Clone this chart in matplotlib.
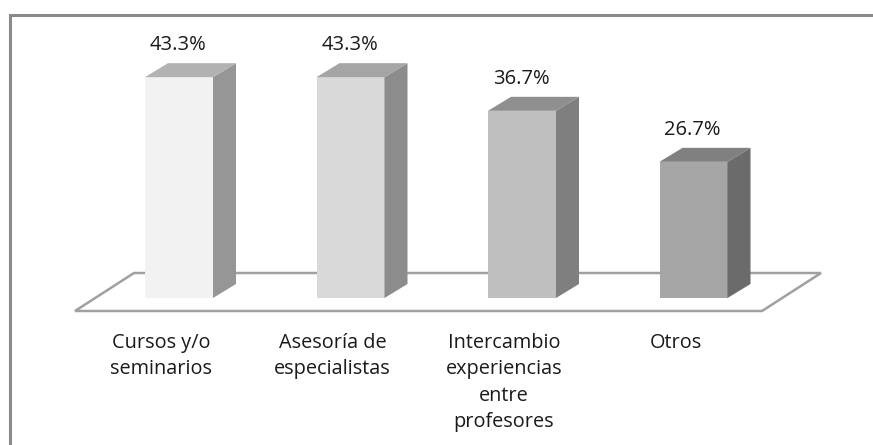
import matplotlib
matplotlib.use("Agg")
import matplotlib.pyplot as plt
from matplotlib.patches import Polygon, Rectangle

categories = ["Cursos y/o\nseminarios", "Asesoría de\nespecialistas",
              "Intercambio\nexperiencias\nentre\nprofesores", "Otros"]
values = [43.3, 43.3, 36.7, 26.7]
value_labels = ["43.3%", "43.3%", "36.7%", "26.7%"]

front_colors = ["#f2f2f2", "#d9d9d9", "#bfbfbf", "#a6a6a6"]
side_colors = ["#969696", "#8c8c8c", "#7f7f7f", "#6b6b6b"]
top_colors = ["#b2b2b2", "#a5a5a5", "#8f8f8f", "#808080"]

W, H = 873, 445
fig = plt.figure(figsize=(W / 100, H / 100), dpi=100)
ax = fig.add_axes([0, 0, 1, 1])
# pixel mapping: px = 179 + 171.5*x ; py = 298 - 5.1*v
xs = 171.5
ys = 5.1
ax.set_xlim((0 - 179) / xs, (W - 179) / xs)
ax.set_ylim((298 - H) / ys, (298 - 0) / ys)
ax.axis("off")

bw = 68 / xs
ddx = 23 / xs
ddy = 14 / ys

# outer frame
ax.add_patch(Rectangle(((10 - 179) / xs, (298 - 460) / ys), (900 - 10) / xs, (460 - 15) / ys,
                       fill=False, edgecolor="#8a8a8a", lw=2.2, zorder=0))

# floor
fl_front_y = (298 - 311) / ys
fl_back_y = (298 - 273) / ys
fx0 = (75 - 179) / xs
fx1 = (762 - 179) / xs
fdx = (134 - 75) / xs
floor = Polygon([(fx0, fl_front_y), (fx1, fl_front_y), (fx1 + fdx, fl_back_y), (fx0 + fdx, fl_back_y)],
                closed=True, facecolor="white", edgecolor="#a0a0a0", lw=1.8, zorder=1)
ax.add_patch(floor)

for i, v in enumerate(values):
    x0 = i - bw / 2
    x1 = i + bw / 2
    # front
    ax.add_patch(Polygon([(x0, 0), (x1, 0), (x1, v), (x0, v)], closed=True,
                         facecolor=front_colors[i], edgecolor="none", zorder=3))
    # side
    ax.add_patch(Polygon([(x1, 0), (x1 + ddx, ddy), (x1 + ddx, v + ddy), (x1, v)], closed=True,
                         facecolor=side_colors[i], edgecolor="none", zorder=3))
    # top
    ax.add_patch(Polygon([(x0, v), (x1, v), (x1 + ddx, v + ddy), (x0 + ddx, v + ddy)], closed=True,
                         facecolor=top_colors[i], edgecolor="none", zorder=3))
    ax.text(i - 1 / xs, v + 32 / ys, value_labels[i], ha="center", va="center",
            fontsize=14.5, family="Open Sans", color="#1a1a1a", zorder=4)
    ax.text(i - 18 / xs, (298 - 333) / ys, categories[i], ha="center", va="top",
            fontsize=14.3, family="Open Sans", color="#1a1a1a", linespacing=1.42, zorder=4)

fig.savefig("out.png", dpi=100)
